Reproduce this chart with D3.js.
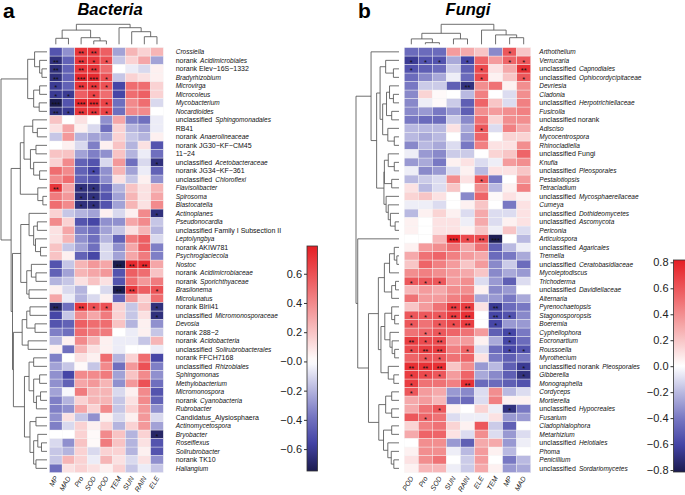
<!DOCTYPE html>
<html><head><meta charset="utf-8">
<script src="https://cdn.jsdelivr.net/npm/d3@7"></script>
<style>
body{margin:0;background:#fff}
svg{font-family:"Liberation Sans",Arial,Helvetica,sans-serif}
</style>
</head><body>
<svg width="685" height="495"></svg>
<script>
// ---------------- Bacteria ----------------
const bacCols = ["MP","MAD","Pro","SOD","POD","TEM","SUN","RAIN","ELE"];
const bacRows = ["*Crossiella*","norank *Acidimicrobiales*","norank Elev\u221216S\u22121332","*Bradyrhizobium*","*Microvirga*","*Microcoleus*","*Mycobacterium*","*Nocardioides*","unclassified *Sphingomonadales*","RB41","norank *Anaerolineaceae*","norank JG30\u2212KF\u2212CM45","11\u221224","unclassified *Acetobacteraceae*","norank JG34\u2212KF\u2212361","unclassified *Chloroflexi*","*Flavisolibacter*","*Spirosoma*","*Blastocatella*","*Actinoplanes*","*Pseudonocardia*","unclassified Family I Subsection II","*Leptolyngbya*","norank AKIW781","*Psychroglaciecola*","*Nostoc*","norank *Acidimicrobiaceae*","norank *Sporichthyaceae*","*Brasilonema*","*Microlunatus*","norank Blrii41","unclassified *Micromonosporaceae*","*Devosia*","norank 288\u22122","norank *Acidobacteria*","unclassified *Solirubrobacterales*","norank FFCH7168","unclassified *Rhizobiales*","*Sphingomonas*","*Methylobacterium*","*Micromonospora*","norank *Cyanobacteria*","*Rubrobacter*","Candidatus_Alysiosphaera","*Actinomycetospora*","*Bryobacter*","*Roseiflexus*","*Solirubrobacter*","norank TK10","*Haliangium*"];
const bacValues = [
[-0.5,-0.3,0.7,0.7,0.55,-0.25,0.25,0.15,0.25],
[-0.65,-0.45,0.7,0.7,0.6,-0.15,0.15,0.3,-0.25],
[-0.65,-0.45,0.7,0.7,0.5,0,-0.05,-0.1,0.05],
[-0.65,-0.45,0.75,0.75,0.6,-0.15,0.15,0.1,0.05],
[-0.6,-0.45,0.7,0.7,0.6,-0.55,0.5,0.5,0.15],
[-0.6,-0.6,0.55,0.65,0.5,-0.55,0.5,0.55,0.15],
[-0.75,-0.5,0.75,0.75,0.65,-0.4,0.4,0.5,-0.1],
[-0.65,-0.6,0.7,0.7,0.65,-0.4,0.4,0.4,0],
[0.2,0,0.1,0,-0.3,0.3,-0.35,-0.4,-0.05],
[0.1,0.3,0.05,-0.1,-0.4,0.15,-0.2,-0.25,-0.05],
[-0.15,0.35,-0.2,-0.25,-0.25,0.15,-0.15,-0.2,0.05],
[0,0.05,-0.1,-0.35,0.05,0.2,-0.2,0.1,-0.5],
[0.2,0.2,-0.25,-0.35,-0.3,0.2,-0.2,-0.05,-0.4],
[0.15,0.4,-0.45,-0.5,-0.1,0.35,-0.4,-0.1,-0.65],
[0.5,0.4,-0.45,-0.55,-0.3,0.25,-0.25,-0.05,-0.45],
[0.4,0.5,-0.45,-0.5,-0.3,0.1,-0.15,0.05,-0.3],
[0.7,0.3,-0.65,-0.65,-0.45,-0.2,0.2,0.1,0.25],
[0.45,0.35,-0.65,-0.65,-0.5,-0.25,0.25,0.1,0.3],
[0.5,0.4,-0.65,-0.65,-0.5,-0.25,0.25,0.1,0.4],
[0.15,-0.15,-0.2,-0.25,0.05,-0.1,0.05,0.4,-0.65],
[0.4,0.15,-0.5,-0.55,-0.3,-0.3,0.3,0.4,-0.15],
[0.1,0.3,-0.35,-0.4,-0.25,-0.15,0.1,0.25,-0.2],
[0.1,0.25,-0.3,-0.4,-0.2,-0.45,0.45,0.55,-0.1],
[0.2,-0.15,-0.25,-0.4,-0.1,-0.3,0.3,0.55,-0.35],
[0.2,0.05,-0.45,-0.55,-0.1,-0.25,0.3,0.45,-0.35],
[-0.5,-0.15,0.25,0.35,0.3,-0.75,0.75,0.75,0.3],
[-0.45,-0.25,0.25,0.3,0.35,-0.5,0.55,0.5,0.2],
[-0.2,-0.15,0.1,0.2,0.1,-0.5,0.5,0.35,0.45],
[0.05,-0.1,-0.2,0,-0.1,-0.75,0.7,0.55,0.6],
[0.3,-0.05,-0.2,-0.1,0.05,-0.45,0.35,0.15,0.5],
[-0.7,-0.4,0.7,0.6,0.6,0.15,-0.15,0.2,-0.65],
[-0.55,-0.15,0.4,0.3,0.45,0.15,-0.15,0.1,-0.65],
[-0.5,-0.45,0.55,0.5,0.5,0.2,-0.2,0.05,-0.3],
[-0.35,-0.4,0.5,0.45,0.45,0,-0.05,0.05,-0.15],
[-0.2,0.05,0.4,0.25,0.05,-0.05,-0.05,-0.15,0.25],
[0.05,-0.4,0.25,0.1,0.05,-0.05,0,0,-0.05],
[-0.35,0,0.1,0.05,0.5,-0.2,0.15,0.5,-0.55],
[-0.25,-0.15,0.02,-0.15,0.4,-0.4,0.35,0.6,-0.35],
[-0.3,-0.55,0.4,0.4,0.45,-0.25,0.2,0.4,-0.3],
[-0.3,-0.45,0.3,0.35,0.25,-0.3,0.35,0.6,-0.4],
[-0.25,-0.02,0.45,0.25,0.25,-0.1,0.05,0.4,-0.5],
[-0.35,-0.2,0.15,0.25,0.25,-0.15,0.1,0.4,-0.45],
[-0.35,-0.3,0.3,0.15,0.4,-0.15,0.15,0.35,-0.3],
[-0.3,0.1,-0.15,-0.3,0.05,-0.1,0.05,0.35,-0.1],
[-0.35,-0.1,0.15,0.05,0.15,-0.2,0.15,0.35,-0.25],
[0,0,0.15,0.02,0.4,0.2,-0.2,0.15,-0.7],
[-0.1,-0.3,0.2,0.02,0.45,0.2,-0.2,0.1,-0.5],
[-0.15,-0.2,0.15,-0.1,0.15,0.15,-0.2,0.05,-0.5],
[-0.15,0.25,0.15,-0.05,0.25,0.1,-0.1,0.1,-0.3],
[-0.4,0.1,0.15,0.1,0.05,0.15,-0.15,-0.05,-0.15]
];
const bacSig = [
[0,"Pro","**"],[0,"SOD","**"],
[1,"MP","**"],[1,"Pro","**"],[1,"SOD","*"],[1,"POD","*"],
[2,"MP","**"],[2,"Pro","**"],[2,"SOD","**"],
[3,"MP","**"],[3,"Pro","***"],[3,"SOD","***"],[3,"POD","*"],
[4,"MP","*"],[4,"Pro","**"],[4,"SOD","**"],[4,"POD","*"],
[5,"MP","*"],[5,"MAD","*"],[5,"SOD","*"],
[6,"MP","***"],[6,"Pro","***"],[6,"SOD","***"],[6,"POD","*"],
[7,"MP","**"],[7,"MAD","*"],[7,"Pro","**"],[7,"SOD","**"],[7,"POD","*"],
[13,"ELE","*"],[14,"SOD","*"],
[16,"MP","**"],[16,"Pro","*"],[16,"SOD","*"],
[17,"Pro","*"],[17,"SOD","*"],[18,"Pro","*"],[18,"SOD","*"],
[19,"ELE","*"],
[25,"TEM","**"],[25,"SUN","**"],[25,"RAIN","**"],
[28,"TEM","**"],[28,"SUN","**"],[28,"ELE","*"],
[30,"MP","**"],[30,"Pro","**"],[30,"SOD","*"],[30,"POD","*"],[30,"ELE","*"],
[31,"ELE","*"],[45,"ELE","*"]
];
// dendrograms: [mergeHeight, left, right]; leaves = row/column index
const bacRowTree = [1,
  [0.42, [0.27,0,[0.16,1,[0.11,2,3]]], [0.29,[0.16,4,5],[0.17,6,7]]],
  [0.78,
    [0.58, [0.5,[0.31,8,[0.21,9,10]],[0.36,[0.24,11,12],[0.29,13,[0.16,14,15]]]], [0.2,16,[0.09,17,18]]],
    [0.75,
      [0.57, [0.39,19,[0.29,[0.21,20,21],[0.25,22,[0.14,23,24]]]], [0.44,[0.34,25,[0.24,26,27]],[0.39,28,29]]],
      [0.73,
        [0.54,[0.44,[0.37,30,31],[0.26,32,33]],[0.41,34,35]],
        [0.49,[0.39,[0.29,36,37],[0.29,[0.16,38,39],[0.23,[0.14,40,41],42]]],
              [0.37,[0.24,43,44],[0.29,[0.2,45,[0.12,46,47]],[0.24,48,49]]]]]]]];
const bacColTree = [1,[0.71,[0.3,0,1],[0.33,2,[0.17,3,4]]],[0.83,5,[0.63,6,[0.38,7,8]]]];
const bacRange = [-0.75, 0.79];
const bacTicks = [0.6,0.4,0.2,0,-0.2,-0.4,-0.6];
const bacTickLabels = ["0.6","0.4","0.2","\u22120.0","\u22120.2","\u22120.4","\u22120.6"];

// ---------------- Fungi ----------------
const funCols = ["POD","Pro","SOD","SUN","RAIN","ELE","TEM","MP","MAD"];
const funRows = ["*Arthothelium*","*Verrucaria*","unclassified *Capnodiales*","unclassified *Ophiocordycipitaceae*","*Devriesia*","*Cladonia*","unclassified *Herpotrichiellaceae*","*Fusicolla*","unclassified norank","*Adisciso*","*Mycocentrospora*","*Rhinocladiella*","unclassified Fungi","*Knufia*","unclassified *Pleosporales*","*Pestalotiopsis*","*Tetracladium*","unclassified *Mycosphaerellaceae*","*Cumeya*","unclassified *Dothideomycetes*","unclassified *Ascomycota*","*Periconia*","*Articulospora*","unclassified *Agaricales*","*Tremella*","unclassified *Ceratobasidiaceae*","*Mycoleptodiscus*","*Trichoderma*","unclassified *Davidiellaceae*","*Alternaria*","*Pyrenochaetopsis*","*Stagonosporopsis*","*Boeremia*","*Cyphellophora*","*Eocronartium*","*Roussoella*","*Myrothecium*","unclassified norank *Pleosporales*","*Gibberella*","*Monographella*","*Cordyceps*","*Mortierella*","unclassified *Hypocreales*","*Fusarium*","*Cladophialophora*","*Metarhizium*","unclassified *Helotiales*","*Phoma*","*Penicillium*","unclassified *Sordariomycetes*"];
const funValues = [
[-0.45,-0.45,-0.45,0.35,0.3,0.2,-0.35,0.6,0.2],
[-0.65,-0.55,-0.55,-0.25,-0.6,0.55,0.35,0.55,0.6],
[-0.55,-0.5,-0.45,-0.15,-0.5,0.65,0.1,0.3,0.75],
[-0.45,-0.35,-0.25,-0.05,-0.45,0.65,0.05,0.2,0.6],
[-0.4,-0.15,-0.15,-0.5,-0.7,0.4,0.5,0.05,0.4],
[-0.35,0.15,0.02,0,-0.2,0.45,0,-0.1,0.4],
[-0.35,-0.05,0.02,-0.15,-0.5,0.55,0.2,-0.1,0.45],
[-0.35,-0.3,-0.4,-0.3,-0.5,0.4,0.35,0.4,0.45],
[-0.4,-0.45,-0.45,-0.15,-0.35,0.5,0.15,0.4,0.4],
[-0.2,-0.2,-0.2,0.1,-0.25,0.6,-0.1,0.45,0.3],
[-0.2,-0.25,-0.2,0,-0.3,0.55,0,0.15,0.15],
[-0.35,-0.2,-0.25,-0.1,-0.4,0.45,0.1,0.1,0.4],
[-0.05,-0.3,-0.35,-0.15,-0.15,0,0.15,0.2,0.55],
[-0.3,-0.25,-0.4,0.05,0.1,-0.1,-0.05,0.35,0.4],
[-0.05,-0.35,-0.3,-0.1,0.05,-0.2,0.1,0.1,0.2],
[-0.2,-0.15,-0.1,0.4,0.1,0.6,-0.4,0,0.35],
[0.1,-0.2,-0.1,0.2,0,0.4,-0.2,0.05,0.45],
[0.15,0.2,0.1,0,-0.35,0.55,0.02,0.1,0.05],
[-0.05,-0.05,-0.1,0,0.05,0.2,0,-0.4,0.1],
[-0.2,0.05,0.15,0.05,-0.1,0.3,-0.1,-0.1,0.1],
[0.05,0,0.1,0.1,-0.05,0.3,-0.1,0.05,0.1],
[0.05,0,0.1,0.1,0.05,0.2,-0.05,0.2,-0.1],
[0,0,0.25,0.8,0.65,0.65,-0.8,0,-0.2],
[0.05,0.35,0.4,0.5,0.3,0.5,-0.5,-0.2,-0.05],
[0.3,0.5,0.55,0.45,0.35,0.3,-0.45,-0.4,-0.25],
[0.2,0.55,0.45,0.35,0.2,0.35,-0.35,-0.15,-0.45],
[0.4,0.45,0.4,0.35,0.3,0.2,-0.35,-0.25,-0.3],
[0.6,0.6,0.6,0.35,0.4,-0.1,-0.3,-0.5,-0.1],
[0.25,0.35,0.3,0.4,0.4,0.05,-0.35,-0.3,0],
[0.5,0.35,0.35,0.45,0.5,-0.25,-0.3,-0.4,-0.25],
[0.2,0.35,0.5,0.7,0.7,0.1,-0.65,-0.45,-0.4],
[0.6,0.6,0.6,0.7,0.75,0,-0.6,-0.55,-0.35],
[0.6,0.5,0.6,0.65,0.7,0,-0.6,-0.3,-0.3],
[0.5,0.55,0.6,0.55,0.5,0.35,-0.5,-0.6,-0.4],
[0.7,0.65,0.65,0.35,0.35,0.05,-0.25,-0.6,-0.45],
[0.65,0.7,0.7,0.45,0.55,-0.1,-0.45,-0.6,-0.55],
[0.55,0.6,0.6,0.5,0.55,0.1,-0.4,-0.5,-0.4],
[0.75,0.75,0.75,0.2,0.4,-0.3,-0.2,-0.5,-0.65],
[0.7,0.65,0.6,0.35,0.55,-0.25,-0.35,-0.5,-0.7],
[0.7,0.5,0.5,0.45,0.75,-0.45,-0.45,-0.5,-0.55],
[0.6,0.35,0.3,-0.3,-0.35,-0.1,0.4,-0.2,-0.1],
[0.3,0.35,0.25,-0.4,-0.45,-0.1,0.45,0.05,0.05],
[0.3,0.5,0.6,0.05,0,0.15,-0.05,-0.7,-0.4],
[0.6,0.55,0.5,-0.1,-0.05,-0.05,0.1,-0.3,-0.3],
[0.15,0.45,0.5,0.15,0.05,0.6,-0.15,-0.5,0],
[0.3,0.55,0.55,0.1,-0.1,0.4,-0.1,-0.3,-0.1],
[0,0.4,0.4,-0.3,-0.5,0.3,0.3,-0.3,-0.05],
[0.05,0.4,0.4,-0.05,-0.2,0.35,0.05,-0.2,0],
[0.1,0.4,0.5,0,-0.15,0.35,0,-0.4,-0.2],
[0.05,0.25,0.25,-0.05,-0.15,0.3,0.05,-0.3,-0.25]
];
const funSig = [
[0,"MP","*"],
[1,"POD","*"],[1,"Pro","*"],[1,"SOD","*"],[1,"RAIN","*"],[1,"MP","*"],[1,"MAD","*"],
[2,"POD","*"],[2,"ELE","*"],[2,"MAD","**"],
[3,"ELE","*"],[3,"MAD","*"],
[4,"RAIN","**"],
[9,"ELE","*"],[15,"ELE","*"],
[22,"SUN","***"],[22,"RAIN","*"],[22,"ELE","**"],[22,"TEM","***"],
[27,"POD","*"],[27,"Pro","*"],[27,"SOD","*"],
[30,"SUN","**"],[30,"RAIN","**"],[30,"TEM","**"],
[31,"POD","*"],[31,"Pro","*"],[31,"SOD","*"],[31,"SUN","**"],[31,"RAIN","**"],[31,"TEM","**"],[31,"MP","*"],
[32,"POD","*"],[32,"SOD","*"],[32,"SUN","*"],[32,"RAIN","**"],[32,"TEM","*"],
[33,"Pro","*"],[33,"SOD","*"],[33,"MP","*"],
[34,"POD","**"],[34,"Pro","*"],[34,"SOD","**"],[34,"MP","*"],
[35,"POD","*"],[35,"Pro","**"],[35,"SOD","**"],[35,"RAIN","*"],[35,"MP","*"],[35,"MAD","*"],
[36,"Pro","*"],[36,"SOD","*"],
[37,"POD","**"],[37,"Pro","**"],[37,"SOD","**"],[37,"MAD","*"],
[38,"POD","*"],[38,"Pro","*"],[38,"SOD","*"],[38,"MAD","*"],
[39,"POD","*"],[39,"RAIN","**"],
[40,"POD","*"],
[42,"SOD","*"],[42,"MP","*"],
[43,"Pro","*"]
];
const funRowTree = [1,
  [0.65, 0,
    [0.52,
      [0.44,[0.31,1,[0.13,2,3]],
            [0.38,[0.29,[0.22,4,[0.13,5,6]],[0.17,7,8]],[0.26,9,[0.11,10,11]]]],
      [0.35,[0.34,[0.25,12,[0.11,13,14]],[0.17,15,16]],
            [0.3,17,[0.25,18,[0.2,19,[0.09,20,21]]]]]]],
  [0.96, 22,
    [0.71,
      [0.48,
        [0.34,[0.22,[0.11,23,[0.05,24,25]],26],[0.17,[0.08,27,28],29]],
        [0.42,[0.33,[0.17,30,[0.1,31,32]],[0.21,33,[0.16,34,[0.1,35,36]]]],[0.25,37,[0.12,38,39]]]],
      [0.47,
        [0.31,[0.17,40,41],[0.17,42,43]],
        [0.36,[0.17,44,45],[0.26,46,[0.18,47,[0.12,48,49]]]]]]]];
const funColTree = [1,[0.55,[0.27,0,[0.08,1,2]],[0.27,3,4]],[0.71,5,[0.47,6,[0.33,7,8]]]];
const funRange = [-0.815, 0.818];
const funTicks = [0.8,0.6,0.4,0.2,0,-0.2,-0.4,-0.6,-0.8];
const funTickLabels = ["0.8","0.6","0.4","0.2","0.0","\u22120.2","\u22120.4","\u22120.6","\u22120.8"];

// ---------------- drawing ----------------
const svg = d3.select("svg");
const palette = ["#1b1b4f","#4343a4","#7676c2","#b8b8e0","#ffffff","#f8c4c5","#f28b8d","#ec5357","#e51e24"];
function makeColor([lo,hi]){
  return d3.scaleLinear().domain([lo,lo*.75,lo*.5,lo*.25,0,hi*.25,hi*.5,hi*.75,hi]).range(palette).clamp(true);
}
function walk(node, pos, segs){
  if (typeof node === "number") return {p: pos(node), h: 0};
  const a = walk(node[1], pos, segs), b = walk(node[2], pos, segs);
  segs.push({h: node[0], a, b});
  return {p: (a.p + b.p) / 2, h: node[0]};
}
function label(sel, str){
  const parts = str.split("*");
  parts.forEach((t,i)=>{
    if (!t) return;
    const it = i % 2 === 1;
    const ts = sel.append("tspan").text(it ? t : t.trimEnd())
      .attr("font-style", it ? "italic" : "normal")
      .attr("font-size", it ? 6.5 : 7);
    if (it && i > 0 && parts[i-1].length) ts.attr("dx", 3);
  });
}
function panel(o){
  const g = svg.append("g");
  const xb = d3.scaleBand().domain(d3.range(o.cols.length)).range([o.x0, o.x1]);
  const yb = d3.scaleBand().domain(d3.range(o.rows.length)).range([o.y0, o.y1]);
  const color = makeColor(o.range);
  const cells = o.values.flatMap((r,i)=>r.map((v,j)=>({i,j,v})));
  g.selectAll("rect.cell").data(cells).join("rect").attr("class","cell")
    .attr("x",d=>xb(d.j)).attr("y",d=>yb(d.i))
    .attr("width",xb.bandwidth()).attr("height",yb.bandwidth())
    .attr("fill",d=>color(d.v)).attr("stroke","#f4f4f4").attr("stroke-width",0.4);
  g.selectAll("text.sig").data(o.sig).join("text").attr("class","sig")
    .attr("x",d=>xb(o.cols.indexOf(d[1]))+xb.bandwidth()/2)
    .attr("y",d=>yb(d[0])+yb.bandwidth()/2+4.3)
    .attr("text-anchor","middle").attr("font-size",7.5).attr("fill","#111")
    .text(d=>d[2]);
  // row dendrogram
  const hx = d3.scaleLinear().domain([0,1]).range([o.rdLeaf, o.rdRoot]);
  const rsegs = []; walk(o.rowTree, i=>yb(i)+yb.bandwidth()/2, rsegs);
  g.selectAll("path.rd").data(rsegs).join("path").attr("class","rd")
    .attr("d",s=>`M${hx(s.a.h)},${s.a.p}H${hx(s.h)}V${s.b.p}H${hx(s.b.h)}`)
    .attr("fill","none").attr("stroke","#555").attr("stroke-width",0.85);
  // column dendrogram
  const hy = d3.scaleLinear().domain([0,1]).range([o.cdLeaf, o.cdRoot]);
  const csegs = []; walk(o.colTree, j=>xb(j)+xb.bandwidth()/2, csegs);
  g.selectAll("path.cd").data(csegs).join("path").attr("class","cd")
    .attr("d",s=>`M${s.a.p},${hy(s.a.h)}V${hy(s.h)}H${s.b.p}V${hy(s.b.h)}`)
    .attr("fill","none").attr("stroke","#555").attr("stroke-width",0.85);
  // row labels
  g.selectAll("text.rl").data(o.rows).join("text").attr("class","rl")
    .attr("x",o.labelX).attr("y",(d,i)=>yb(i)+yb.bandwidth()/2+2.4)
    .attr("fill","#111").style("white-space","pre")
    .each(function(d){ label(d3.select(this), d); });
  // column labels
  g.selectAll("text.cl").data(o.cols).join("text").attr("class","cl")
    .attr("transform",(d,j)=>`translate(${xb(j)+xb.bandwidth()/2+2.5},${o.colLabelY}) rotate(-60)`)
    .attr("text-anchor","end").attr("font-size",7).attr("font-style","italic").attr("fill","#111")
    .text(d=>d);
  // colour bar
  const cb = d3.scaleLinear().domain(o.range).range([o.cbBottom, o.cbTop]);
  const gid = "grad" + o.id;
  const grad = svg.append("defs").append("linearGradient").attr("id",gid)
    .attr("x1",0).attr("y1",1).attr("x2",0).attr("y2",0);
  d3.range(41).forEach(k=>{
    const v = o.range[0] + (o.range[1]-o.range[0])*k/40;
    grad.append("stop").attr("offset",k/40).attr("stop-color",color(v));
  });
  g.append("rect").attr("x",o.cbX).attr("y",o.cbTop).attr("width",o.cbW)
    .attr("height",o.cbBottom-o.cbTop).attr("fill",`url(#${gid})`)
    .attr("stroke","#333").attr("stroke-width",0.8);
  const ax = g.append("g").attr("transform",`translate(${o.cbX},0)`)
    .call(d3.axisLeft(cb).tickValues(o.ticks).tickSize(3).tickPadding(2)
      .tickFormat((d,i)=>o.tickLabels[i]));
  ax.select(".domain").remove();
  ax.selectAll("text").attr("font-size",11).attr("fill","#222")
    .attr("font-family","'Liberation Sans',Arial,sans-serif");
  ax.selectAll("line").attr("stroke","#333");
  // titles
  svg.append("text").attr("x",o.letterX).attr("y",18).attr("font-size",21)
    .attr("font-weight","bold").text(o.letter);
  svg.append("text").attr("x",o.titleX).attr("y",14.5).attr("text-anchor","middle")
    .attr("font-size",16.5).attr("font-weight","bold").attr("font-style","italic").text(o.title);
}

panel({id:"b", cols:bacCols, rows:bacRows, values:bacValues, sig:bacSig,
  rowTree:bacRowTree, colTree:bacColTree, range:bacRange,
  ticks:bacTicks, tickLabels:bacTickLabels,
  x0:49.5, x1:163.3, y0:47.6, y1:472.6, rdLeaf:47, rdRoot:1, cdLeaf:44.3, cdRoot:24.3,
  labelX:175.7, colLabelY:478, cbX:307, cbW:10.5, cbTop:246, cbBottom:471,
  letter:"a", letterX:3, title:"Bacteria", titleX:110});
panel({id:"f", cols:funCols, rows:funRows, values:funValues, sig:funSig,
  rowTree:funRowTree, colTree:funColTree, range:funRange,
  ticks:funTicks, tickLabels:funTickLabels,
  x0:404.3, x1:530.7, y0:47.6, y1:472.6, rdLeaf:399, rdRoot:356, cdLeaf:44.3, cdRoot:24.3,
  labelX:539.3, colLabelY:478, cbX:673.5, cbW:14, cbTop:260, cbBottom:472,
  letter:"b", letterX:358, title:"Fungi", titleX:468});
</script>
</body></html>
